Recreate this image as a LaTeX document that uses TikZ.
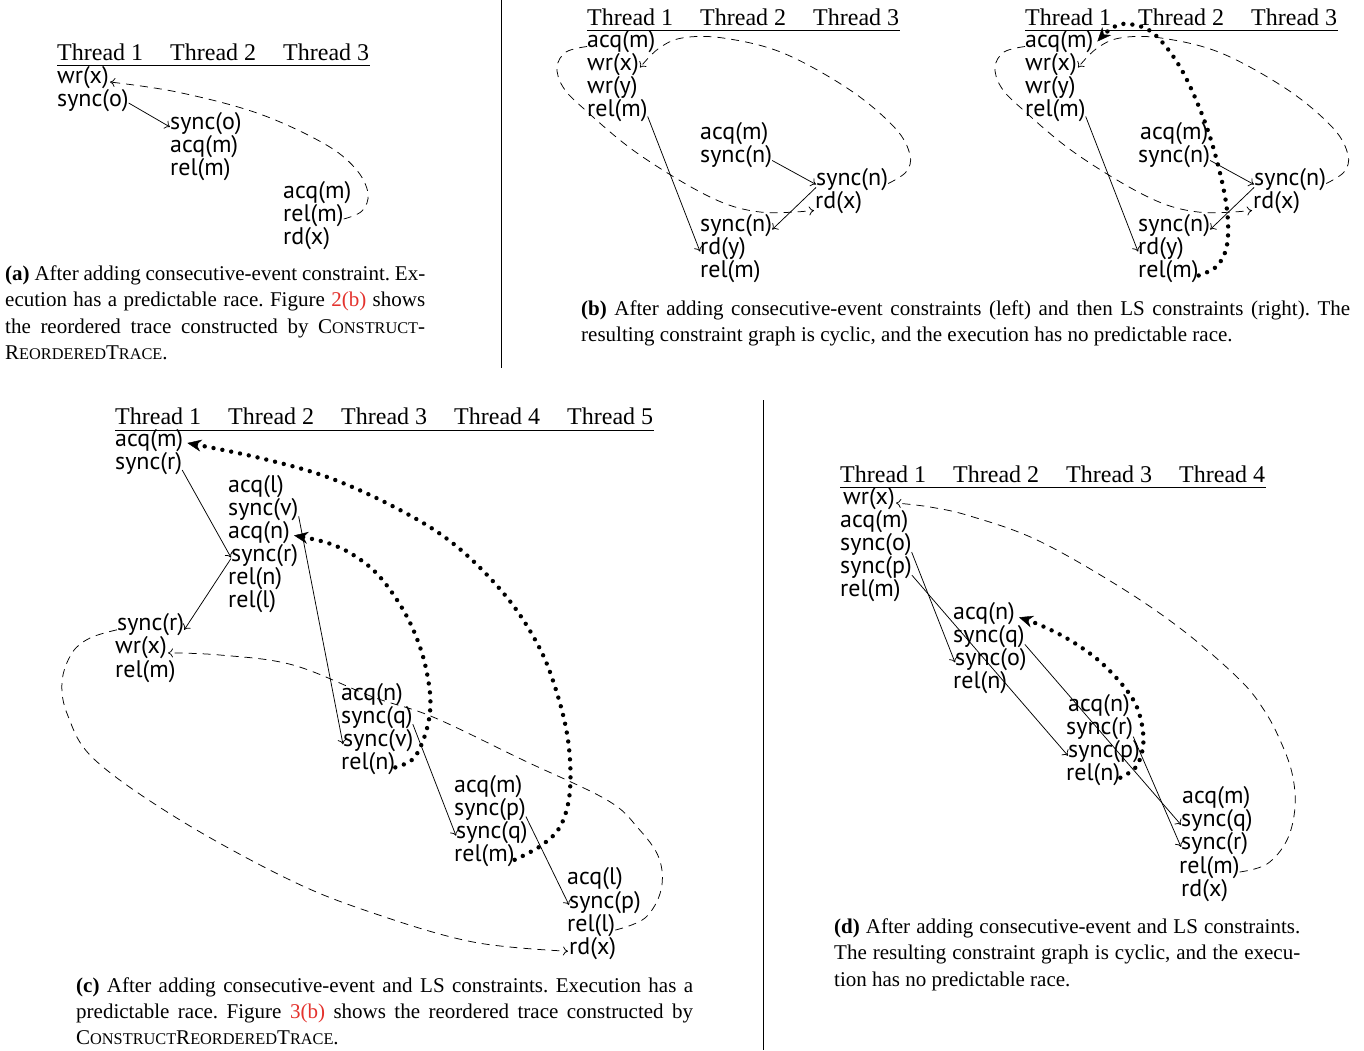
\documentclass[tikz,border=0pt]{standalone}
\usepackage{fontspec}
\setmainfont{Liberation Serif}
\newfontfamily\evfam{PT Sans}
\usetikzlibrary{arrows.meta}
\definecolor{linkred}{RGB}{228,50,45}
\newcommand{\fsc}[1]{{\fontsize{16.3}{17}\selectfont #1}}
\newcommand{\lnk}[1]{\textcolor{linkred}{#1}}
\frenchspacing
\begin{document}
\begin{tikzpicture}[x=1pt,y=-1pt,
  ev/.style={anchor=west,inner sep=0pt,font=\evfam\fontsize{24}{24}\selectfont,text height=17pt,text depth=5pt},
  hd/.style={anchor=base west,inner sep=0pt,font=\fontsize{24}{26}\selectfont},
  captxt/.style={anchor=base west,inner sep=0pt,font=\fontsize{21}{26}\selectfont},
  rulel/.style={line width=0.8pt},
  sepl/.style={line width=0.6pt},
  solidarr/.style={line width=0.75pt,-{To[length=5pt,width=9pt]}},
  dasharr/.style={line width=0.75pt,dash pattern=on 8pt off 6pt,-{To[length=5pt,width=9pt]}},
  dotarr/.style={line width=4.4pt,line cap=round,dash pattern=on 0pt off 9pt,-{Stealth[length=14pt,width=12pt,line width=0.4pt]}},
]
\useasboundingbox (0,0) rectangle (1364,1050);
\fill[white] (0,0) rectangle (1364,1050);

% separators
\draw[sepl] (501,0) -- (501,368);
\draw[sepl] (763,400) -- (763,1050);

% ================= panel (a)
\node[hd] (ha1) at (57,60) {Thread 1};
\node[hd] (ha2) at (170,60) {Thread 2};
\node[hd] (ha3) at (283,60) {Thread 3};
\draw[rulel] (57,65) -- (370,65);
\node[ev] (a1) at (57,77) {wr(x)};
\node[ev] (a2) at (57,100) {sync(o)};
\node[ev] (a3) at (170,123) {sync(o)};
\node[ev] (a4) at (170,146) {acq(m)};
\node[ev] (a5) at (170,169) {rel(m)};
\node[ev] (a6) at (283,192) {acq(m)};
\node[ev] (a7) at (283,215) {rel(m)};
\node[ev] (a8) at (283,238) {rd(x)};
\draw[solidarr] ([yshift=-3pt]a2.east) -- ([yshift=-4pt]a3.west);
\coordinate (a7e) at ([yshift=-4pt]a7.east);
\coordinate (a1e) at ([xshift=1pt,yshift=-5pt]a1.east);
\draw[dasharr] plot[smooth,tension=0.6] coordinates {(a7e) (362,211) (368,193) (355,168) (323,143) (257,113) (177,92) (a1e)};

\node[captxt] (capa1) at (5,280) {\makebox[420pt][s]{\textbf{(a)} After adding consecutive-event constraint. Ex-}};
\node[captxt] (capa2) at (5,306.5) {\makebox[420pt][s]{ecution has a predictable race. Figure \lnk{2(b)} shows}};
\node[captxt] (capa3) at (5,333) {\makebox[420pt][s]{the reordered trace constructed by C\fsc{ONSTRUCT}-}};
\node[captxt] (capa4) at (5,359.5) {R\fsc{EORDERED}T\fsc{RACE}.};

% ================= panel (b) left
\node[hd] (hbl1) at (587,25) {Thread 1};
\node[hd] (hbl2) at (700,25) {Thread 2};
\node[hd] (hbl3) at (813,25) {Thread 3};
\draw[rulel] (587,30.5) -- (900,30.5);
\node[ev] (bl1) at (587,41.5) {acq(m)};
\node[ev] (bl2) at (587,64.5) {wr(x)};
\node[ev] (bl3) at (587,87.5) {wr(y)};
\node[ev] (bl4) at (587,110.5) {rel(m)};
\node[ev] (bl5) at (700,133.5) {acq(m)};
\node[ev] (bl6) at (700,156.5) {sync(n)};
\node[ev] (bl7) at (816,179.5) {sync(n)};
\node[ev] (bl8) at (815,202.5) {rd(x)};
\node[ev] (bl9) at (700,225.5) {sync(n)};
\node[ev] (bl10) at (700,248.5) {rd(y)};
\node[ev] (bl11) at (700,271.5) {rel(m)};
\draw[solidarr] ([yshift=-4pt]bl6.east) -- ([yshift=-5pt]bl7.west);
\draw[solidarr] ([yshift=-8pt]bl7.west) -- ([yshift=-4pt]bl9.east);
\draw[solidarr] ([yshift=-6pt]bl4.east) -- ([yshift=-3pt]bl10.west);
\coordinate (bl7e) at ([yshift=-4pt]bl7.east);
\coordinate (bl2e) at ([xshift=1pt,yshift=-3pt]bl2.east);
\draw[dasharr] plot[smooth,tension=0.6] coordinates {(bl7e) (906,172) (910,155) (895,128) (850,90) (783,53) (723,38) (682,38) (658,49) (bl2e)};
\coordinate (bl1w) at ([yshift=-5pt]bl1.west);
\coordinate (bl8w) at ([xshift=-1pt,yshift=-8pt]bl8.west);
\draw[dasharr] plot[smooth,tension=0.6] coordinates {(bl1w) (566,52) (557,67) (563,87) (583,108) (637,153) (710,197) (760,212) (bl8w)};

% ================= panel (b) right
\node[hd] (hbr1) at (1025,25) {Thread 1};
\node[hd] (hbr2) at (1138,25) {Thread 2};
\node[hd] (hbr3) at (1251,25) {Thread 3};
\draw[rulel] (1025,30.5) -- (1338,30.5);
\node[ev] (br1) at (1025,41.5) {acq(m)};
\node[ev] (br2) at (1025,64.5) {wr(x)};
\node[ev] (br3) at (1025,87.5) {wr(y)};
\node[ev] (br4) at (1025,110.5) {rel(m)};
\node[ev] (br5) at (1140,133.5) {acq(m)};
\node[ev] (br6) at (1138,156.5) {sync(n)};
\node[ev] (br7) at (1254,179.5) {sync(n)};
\node[ev] (br8) at (1253,202.5) {rd(x)};
\node[ev] (br9) at (1138,225.5) {sync(n)};
\node[ev] (br10) at (1138,248.5) {rd(y)};
\node[ev] (br11) at (1138,271.5) {rel(m)};
\draw[solidarr] ([yshift=-4pt]br6.east) -- ([yshift=-5pt]br7.west);
\draw[solidarr] ([yshift=-8pt]br7.west) -- ([yshift=-4pt]br9.east);
\draw[solidarr] ([yshift=-6pt]br4.east) -- ([yshift=-3pt]br10.west);
\coordinate (br7e) at ([yshift=-4pt]br7.east);
\coordinate (br2e) at ([xshift=1pt,yshift=-3pt]br2.east);
\draw[dasharr] plot[smooth,tension=0.6] coordinates {(br7e) (1344,172) (1348,155) (1333,128) (1288,90) (1221,53) (1161,38) (1120,38) (1096,49) (br2e)};
\coordinate (br1w) at ([yshift=-5pt]br1.west);
\coordinate (br8w) at ([xshift=-1pt,yshift=-8pt]br8.west);
\draw[dasharr] plot[smooth,tension=0.6] coordinates {(br1w) (1004,52) (995,67) (1001,87) (1021,108) (1075,153) (1148,197) (1198,212) (br8w)};
\coordinate (br11e) at ([yshift=-4pt]br11.east);
\coordinate (br1e) at ([xshift=4pt,yshift=0pt]br1.east);
\draw[dotarr] plot[smooth,tension=0.6] coordinates {(br11e) (1217,266) (1227,245) (1227,210) (1218,165) (1203,117) (1180,67) (1153,33) (1128,24) (1112,28) (br1e)};

\node[captxt] (capb1) at (581,315.5) {\makebox[769pt][s]{\textbf{(b)} After adding consecutive-event constraints (left) and then LS constraints (right). The}};
\node[captxt] (capb2) at (581,341.5) {resulting constraint graph is cyclic, and the execution has no predictable race.};

% ================= panel (c)
\node[hd] (hc1) at (115,424) {Thread 1};
\node[hd] (hc2) at (228,424) {Thread 2};
\node[hd] (hc3) at (341,424) {Thread 3};
\node[hd] (hc4) at (454,424) {Thread 4};
\node[hd] (hc5) at (567,424) {Thread 5};
\draw[rulel] (115,430) -- (654,430);
\node[ev] (c1) at (115,440) {acq(m)};
\node[ev] (c2) at (115,463.1) {sync(r)};
\node[ev] (c3) at (228,486.2) {acq(l)};
\node[ev] (c4) at (228,509.3) {sync(v)};
\node[ev] (c5) at (228,532.4) {acq(n)};
\node[ev] (c6) at (231,555.5) {sync(r)};
\node[ev] (c7) at (228,578.6) {rel(n)};
\node[ev] (c8) at (228,601.7) {rel(l)};
\node[ev] (c9) at (117,624.8) {sync(r)};
\node[ev] (c10) at (115,647.9) {wr(x)};
\node[ev] (c11) at (115,671) {rel(m)};
\node[ev] (c12) at (341,694.1) {acq(n)};
\node[ev] (c13) at (341,717.2) {sync(q)};
\node[ev] (c14) at (343,740.3) {sync(v)};
\node[ev] (c15) at (341,763.4) {rel(n)};
\node[ev] (c16) at (454,786.5) {acq(m)};
\node[ev] (c17) at (454,809.6) {sync(p)};
\node[ev] (c18) at (456,832.7) {sync(q)};
\node[ev] (c19) at (454,855.8) {rel(m)};
\node[ev] (c20) at (567,878.9) {acq(l)};
\node[ev] (c21) at (569,902) {sync(p)};
\node[ev] (c22) at (567,925.1) {rel(l)};
\node[ev] (c23) at (569,948.2) {rd(x)};
\draw[solidarr] ([yshift=-7pt]c2.east) -- ([yshift=-2pt]c6.west);
\draw[solidarr] ([yshift=-3pt]c6.west) -- ([yshift=-5pt]c9.east);
\draw[solidarr] ([yshift=-7pt]c4.east) -- ([yshift=-4pt]c14.west);
\draw[solidarr] ([yshift=-7pt]c13.east) -- ([yshift=-3pt]c18.west);
\draw[solidarr] ([yshift=-7pt]c17.east) -- ([yshift=-3pt]c21.west);
\coordinate (c22e) at ([yshift=-5pt]c22.east);
\coordinate (c10e) at ([xshift=1pt,yshift=-5pt]c10.east);
\draw[dasharr] plot[smooth,tension=0.6] coordinates {(c22e) (645,918) (661,890) (659,858) (638,828) (607,800) (523,760) (433,717) (373,697) (293,665) (220,655) (c10e)};
\coordinate (c9w) at ([yshift=-5pt]c9.west);
\coordinate (c23w) at ([xshift=-1pt,yshift=-3pt]c23.west);
\draw[dasharr] plot[smooth,tension=0.6] coordinates {(c9w) (90,638) (72,653) (62,682) (68,716) (95,760) (180,820) (290,880) (373,913) (473,942) (c23w)};
\coordinate (c15e) at ([yshift=-4pt]c15.east);
\coordinate (c5e) at ([xshift=4pt,yshift=-3pt]c5.east);
\draw[dotarr] plot[smooth,tension=0.6] coordinates {(c15e) (413,759) (424,738) (430,712) (429,685) (421,650) (405,613) (380,577) (355,556) (328,543) (c5e)};
\coordinate (c19e) at ([yshift=-4pt]c19.east);
\coordinate (c1e) at ([xshift=4pt,yshift=-3pt]c1.east);
\draw[dotarr] plot[smooth,tension=0.6] coordinates {(c19e) (542,845) (561,825) (570,790) (568,740) (556,690) (538,645) (505,595) (455,545) (400,510) (330,478) (260,458) (c1e)};

\node[captxt] (capc1) at (76,992) {\makebox[617pt][s]{\textbf{(c)} After adding consecutive-event and LS constraints. Execution has a}};
\node[captxt] (capc2) at (76,1018) {\makebox[617pt][s]{predictable race. Figure \lnk{3(b)} shows the reordered trace constructed by}};
\node[captxt] (capc3) at (76,1044) {C\fsc{ONSTRUCT}R\fsc{EORDERED}T\fsc{RACE}.};

% ================= panel (d)
\node[hd] (hd1) at (840,482) {Thread 1};
\node[hd] (hd2) at (953,482) {Thread 2};
\node[hd] (hd3) at (1066,482) {Thread 3};
\node[hd] (hd4) at (1179,482) {Thread 4};
\draw[rulel] (840,487) -- (1266,487);
\node[ev] (d1) at (843,498) {wr(x)};
\node[ev] (d2) at (840,521.1) {acq(m)};
\node[ev] (d3) at (840,544.1) {sync(o)};
\node[ev] (d4) at (840,567.2) {sync(p)};
\node[ev] (d5) at (840,590.2) {rel(m)};
\node[ev] (d6) at (953,613.3) {acq(n)};
\node[ev] (d7) at (953,636.4) {sync(q)};
\node[ev] (d8) at (955,659.4) {sync(o)};
\node[ev] (d9) at (953,682.5) {rel(n)};
\node[ev] (d10) at (1068,705.5) {acq(n)};
\node[ev] (d11) at (1066,728.6) {sync(r)};
\node[ev] (d12) at (1068,751.7) {sync(p)};
\node[ev] (d13) at (1066,774.7) {rel(n)};
\node[ev] (d14) at (1182,797.8) {acq(m)};
\node[ev] (d15) at (1181,820.8) {sync(q)};
\node[ev] (d16) at (1181,843.9) {sync(r)};
\node[ev] (d17) at (1179,867) {rel(m)};
\node[ev] (d18) at (1181,890) {rd(x)};
\draw[solidarr] ([yshift=-8pt]d3.east) -- ([yshift=-3pt]d8.west);
\draw[solidarr] ([yshift=-8pt]d4.east) -- ([yshift=-4pt]d12.west);
\draw[solidarr] ([yshift=-8pt]d7.east) -- ([yshift=-4pt]d15.west);
\draw[solidarr] ([yshift=-8pt]d11.east) -- ([yshift=-3pt]d16.west);
\coordinate (d17e) at ([yshift=-5pt]d17.east);
\coordinate (d1e) at ([xshift=1pt,yshift=-5pt]d1.east);
\draw[dasharr] plot[smooth,tension=0.6] coordinates {(d17e) (1267,864) (1287,840) (1295,807) (1292,773) (1280,740) (1264,710) (1240,680) (1185,632) (1120,587) (1037,540) (970,516) (930,507) (d1e)};
\coordinate (d13e) at ([yshift=-3pt]d13.east);
\coordinate (d6e) at ([xshift=4pt,yshift=-4pt]d6.east);
\draw[dotarr] plot[smooth,tension=0.6] coordinates {(d13e) (1136,767) (1143,747) (1142,725) (1135,703) (1120,682) (1097,659) (1068,639) (1040,625) (d6e)};

\node[captxt] (capd1) at (834,933) {\makebox[466pt][s]{\textbf{(d)} After adding consecutive-event and LS constraints.}};
\node[captxt] (capd2) at (834,959.5) {\makebox[466pt][s]{The resulting constraint graph is cyclic, and the execu-}};
\node[captxt] (capd3) at (834,986) {tion has no predictable race.};
\end{tikzpicture}
\end{document}
